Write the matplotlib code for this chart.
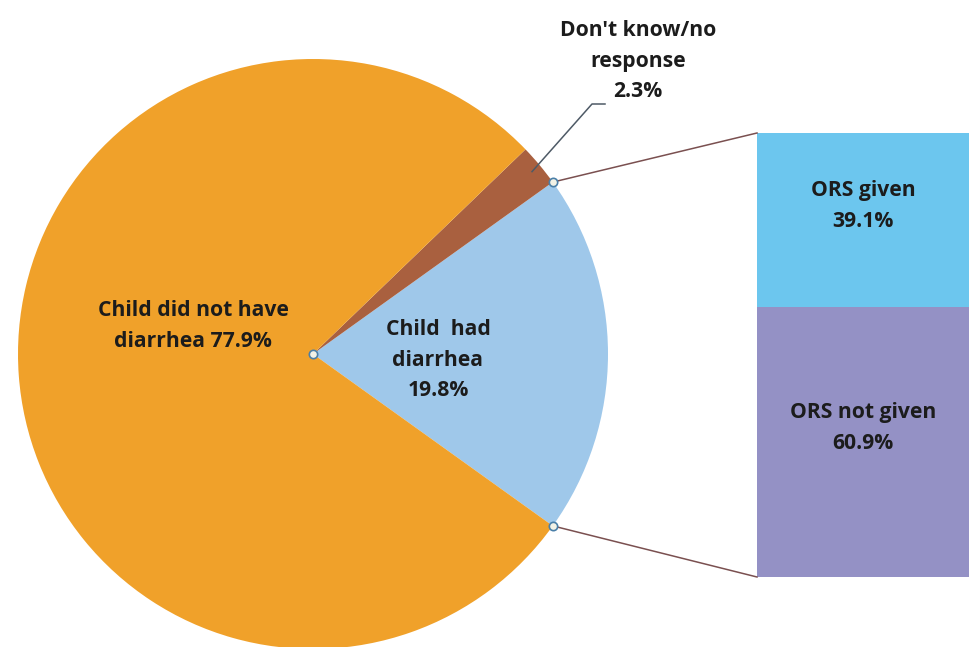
import numpy as np
import matplotlib
matplotlib.use('Agg')
import matplotlib.pyplot as plt

# main pie shares
pie_labels = ["Child  had\ndiarrhea\n19.8%", "Don't know/no\nresponse\n2.3%", "Child did not have\ndiarrhea 77.9%"]
pie_values = [19.8, 2.3, 77.9]
pie_colors = ["#9fc8ea", "#a9603f", "#f0a12a"]

# breakdown of children with diarrhea
bar_labels = ["ORS not given\n60.9%", "ORS given\n39.1%"]
bar_values = [60.9, 39.1]
bar_colors = ["#9491c5", "#6cc6ee"]

plt.rcParams['font.family'] = ['Open Sans', 'DejaVu Sans']
txt = dict(fontsize=15.2, fontweight='bold', color='#1c1c1c', ha='center', va='center', linespacing=1.6)

fig = plt.figure(figsize=(9.69, 6.47), dpi=100)
ax = fig.add_axes([0, 0, 1, 1])

cx, cy, r = 313, 293, 295
start = -pie_values[0] * 3.6 / 2
wedges, _ = ax.pie(pie_values, colors=pie_colors, startangle=start, center=(cx, cy),
                   radius=r, frame=True, wedgeprops=dict(linewidth=0))
ax.set_xlim(0, 969)
ax.set_ylim(0, 647)
ax.set_aspect('equal')
ax.axis('off')

# stacked bar for the diarrhea slice
bx, bw, bbot, bh = 757, 212, 70, 444
bottom = bbot
for v, c, lab in zip(bar_values, bar_colors, bar_labels):
    h = v / 100 * bh
    ax.bar(bx, h, width=bw, bottom=bottom, align='edge', color=c, linewidth=0)
    ax.text(bx + bw / 2, bottom + h / 2 + 14, lab, **txt)
    bottom += h

# connectors from the slice edges to the bar corners
def edge(theta):
    t = np.radians(theta)
    return cx + r * np.cos(t), cy + r * np.sin(t)

p_top = edge(wedges[0].theta2)
p_bot = edge(wedges[0].theta1)
ax.plot([p_top[0], bx], [p_top[1], bbot + bh], color='#7a5050', lw=1.1)
ax.plot([p_bot[0], bx], [p_bot[1], bbot], color='#7a5050', lw=1.1)
for p in [(cx, cy), p_top, p_bot]:
    ax.plot(*p, 'o', ms=6, mfc='#f2f2e6', mec='#4a7fa8', mew=1.2)

# leader for the small slice
mid = np.radians((wedges[1].theta1 + wedges[1].theta2) / 2)
lx0, ly0 = cx + (r - 10) * np.cos(mid), cy + (r - 10) * np.sin(mid)
ax.plot([lx0, 592, 605], [ly0, 543, 543], color='#4e5a66', lw=1.1)

ax.text(438, 647 - 360, pie_labels[0], **txt)
ax.text(638, 647 - 61, pie_labels[1], **txt)
ax.text(193, 647 - 326, pie_labels[2], **txt)

fig.savefig('out.png', dpi=100, facecolor='white')
